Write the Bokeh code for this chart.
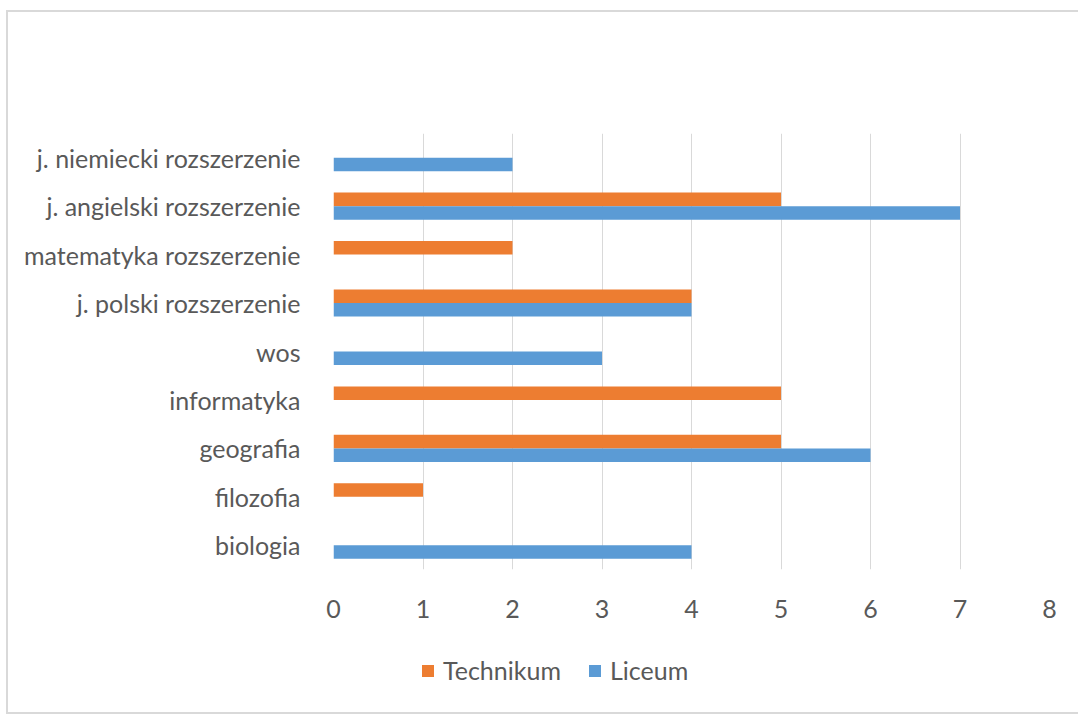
from bokeh.plotting import figure
from bokeh.layouts import column
from bokeh.models import ColumnDataSource, FactorRange, Legend, LegendItem, FixedTicker
from bokeh.transform import dodge
from bokeh.embed import file_html
from bokeh.resources import INLINE

categories = ["biologia", "filozofia", "geografia", "informatyka", "wos",
              "j. polski rozszerzenie", "matematyka rozszerzenie",
              "j. angielski rozszerzenie", "j. niemiecki rozszerzenie"]
technikum = [0, 1, 5, 5, 0, 4, 2, 5, 0]
liceum = [4, 0, 6, 0, 3, 4, 0, 7, 2]
x_ticks = [0, 1, 2, 3, 4, 5, 6, 7, 8]
series_names = ["Technikum", "Liceum"]
series_fields = ["tech", "lic"]
series_colors = ["#ED7D31", "#5B9BD5"]

src = ColumnDataSource(dict(cat=categories, tech=technikum, lic=liceum))

FONT = "Lato"
TXT = "#595959"

p = figure(width=1070, height=617, output_backend="svg", toolbar_location=None,
           y_range=FactorRange(factors=categories, range_padding=0),
           x_range=(0, 8),
           min_border_left=325, min_border_right=29, min_border_top=121, min_border_bottom=60)
p.outline_line_color = None

p.hbar(y=dodge("cat", 0.14, range=p.y_range), right="tech", left=0, height=0.28,
       source=src, color=series_colors[0], line_color=None)
p.hbar(y=dodge("cat", -0.14, range=p.y_range), right="lic", left=0, height=0.28,
       source=src, color=series_colors[1], line_color=None)

p.xaxis.ticker = FixedTicker(ticks=x_ticks)
p.xgrid.grid_line_color = "#d9d9d9"
p.xgrid.grid_line_width = 1
p.ygrid.grid_line_color = None
for ax in (p.xaxis[0], p.yaxis[0]):
    ax.axis_line_color = None
    ax.major_tick_line_color = None
    ax.minor_tick_line_color = None
    ax.major_label_text_font = FONT
    ax.major_label_text_font_size = "25px"
    ax.major_label_text_color = TXT
p.xaxis.major_label_standoff = 24
p.yaxis.major_label_standoff = 27

# legend strip (its renderers are hidden; only the legend is shown)
lg = figure(width=1070, height=83, output_backend="svg", toolbar_location=None,
            x_range=(0, 8), y_range=FactorRange(factors=categories), min_border=0)
lg.axis.visible = False
lg.grid.visible = False
lg.outline_line_color = None
items = []
for name, fld, col in zip(series_names, series_fields, series_colors):
    r = lg.hbar(y="cat", right=fld, left=0, height=0.28, source=src, color=col,
                line_color=None, visible=False)
    items.append(LegendItem(label=name, renderers=[r]))
legend = Legend(items=items, orientation="horizontal", location=(87, 27),
                label_text_font=FONT, label_text_font_size="25px", label_text_color=TXT,
                glyph_width=15, glyph_height=15, spacing=26, border_line_color=None,
                background_fill_alpha=0, margin=0, padding=0, label_standoff=8,
                inactive_fill_alpha=0)
lg.add_layout(legend)

layout = column(p, lg, spacing=0)
layout.styles = {"border": "2px solid #d9d9d9", "margin-left": "6px", "margin-top": "10px"}

open("out.html", "w").write(file_html(layout, INLINE))
